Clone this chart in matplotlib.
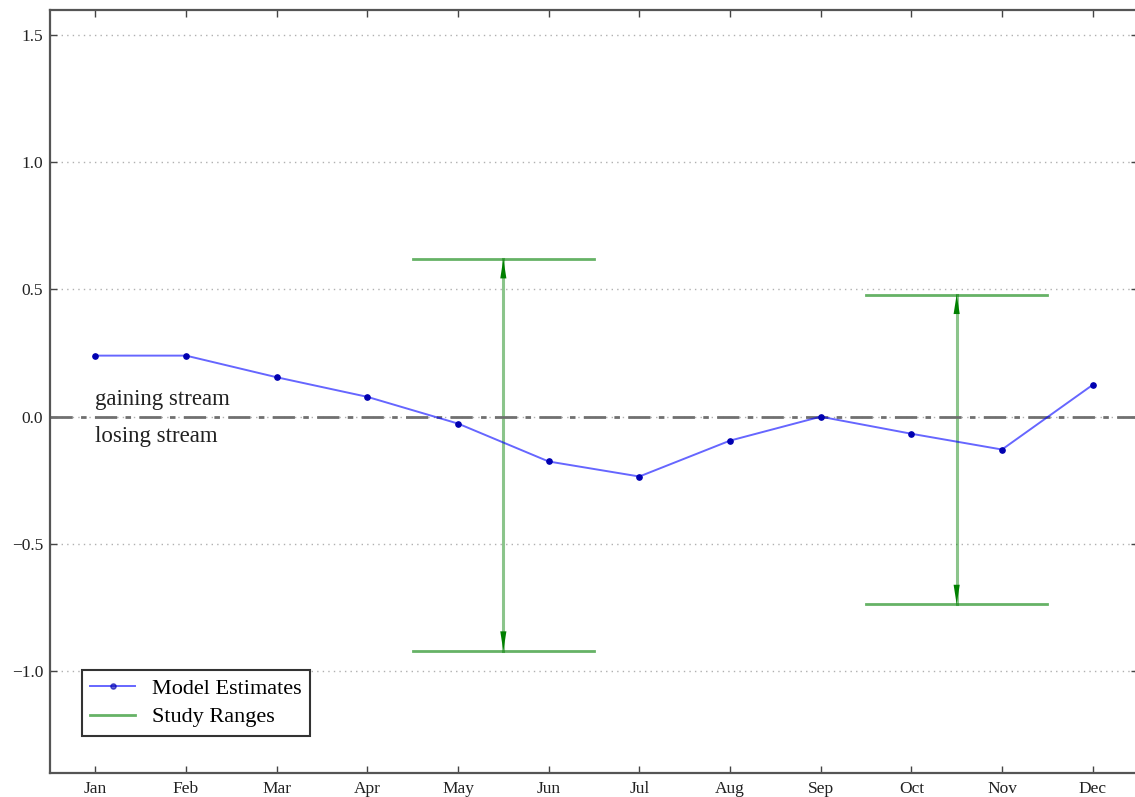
import matplotlib
matplotlib.use("Agg")
import numpy as np
from matplotlib import pyplot as plt

months = ["Jan", "Feb", "Mar", "Apr", "May", "Jun",
          "Jul", "Aug", "Sep", "Oct", "Nov", "Dec"]
model_estimates = [0.24, 0.24, 0.155, 0.078, -0.027, -0.176,
                   -0.235, -0.094, 0.0, -0.067, -0.129, 0.125]

# study ranges sit between two months
range_centers = [4.5, 9.5]
range_high = [0.62, 0.48]
range_low = [-0.92, -0.737]
range_half_width = 1.0

plt.rcParams["font.family"] = ["Liberation Serif", "DejaVu Serif"]

fig = plt.figure(figsize=(11.35, 7.97), dpi=100)
ax = fig.add_axes([50 / 1135, 24 / 797, 1088 / 1135, 763.5 / 797])

x = np.arange(len(months))
ax.plot(x, model_estimates, color="blue", alpha=0.6, lw=1.4, zorder=3,
        label="Model Estimates")
ax.plot(x, model_estimates, ls="none", marker="o", ms=3.8,
        color="#0000b0", zorder=4)

for i, (xc, hi, lo) in enumerate(zip(range_centers, range_high, range_low)):
    label = "Study Ranges" if i == 0 else None
    for yv in (hi, lo):
        ax.plot([xc - range_half_width, xc + range_half_width], [yv, yv],
                color="green", alpha=0.6, lw=2, label=label)
        label = None
    ax.plot([xc, xc], [lo, hi], color="green", alpha=0.45, lw=2.2)
    ax.annotate("", xy=(xc, hi), xytext=(xc, lo),
                arrowprops=dict(arrowstyle="<|-|>,head_length=1.4,head_width=0.22",
                                mutation_scale=10, color="green", lw=0.01,
                                shrinkA=0, shrinkB=0))

ax.axhline(0, color="#707070", ls="-.", lw=2, dashes=(8, 3, 2, 3), zorder=2)

ax.text(0, 0.028, "gaining stream", fontsize=16.5, color="#222222",
        ha="left", va="bottom")
ax.text(0, -0.035, "losing stream", fontsize=16.5, color="#222222",
        ha="left", va="top")

ax.set_xlim(-0.5, 11.5)
ax.set_ylim(-1.4, 1.6)
ax.set_xticks(x)
ax.set_xticklabels(months)
ax.set_yticks([-1.0, -0.5, 0.0, 0.5, 1.0, 1.5])
ax.set_yticklabels(["\u22121.0", "\u22120.5", "0.0", "0.5", "1.0", "1.5"])
ax.yaxis.grid(True, ls=(0, (1, 3)), color="#b0b0b0", lw=1)

ax.tick_params(direction="in", top=True, right=True, length=5, width=1,
               colors="#444444", labelsize=12.5, labelcolor="#222222")
ax.tick_params(axis="y", pad=5)
ax.tick_params(axis="x", pad=6)
for s in ax.spines.values():
    s.set_color("#555555")
    s.set_linewidth(1.6)

leg = ax.legend(loc="lower left", bbox_to_anchor=(0.029, 0.048),
                borderaxespad=0, fontsize=16, fancybox=False, framealpha=1,
                handlelength=2.0, handletextpad=0.75, borderpad=0.4,
                labelspacing=0.35)
leg.get_frame().set_edgecolor("#333333")
leg.get_frame().set_linewidth(1.5)
handles = leg.legend_handles
handles[0].set_marker("o")
handles[0].set_markersize(3.8)
handles[0].set_markerfacecolor("#0000b0")
handles[0].set_markeredgecolor("#0000b0")

fig.savefig("out.png", dpi=100)
